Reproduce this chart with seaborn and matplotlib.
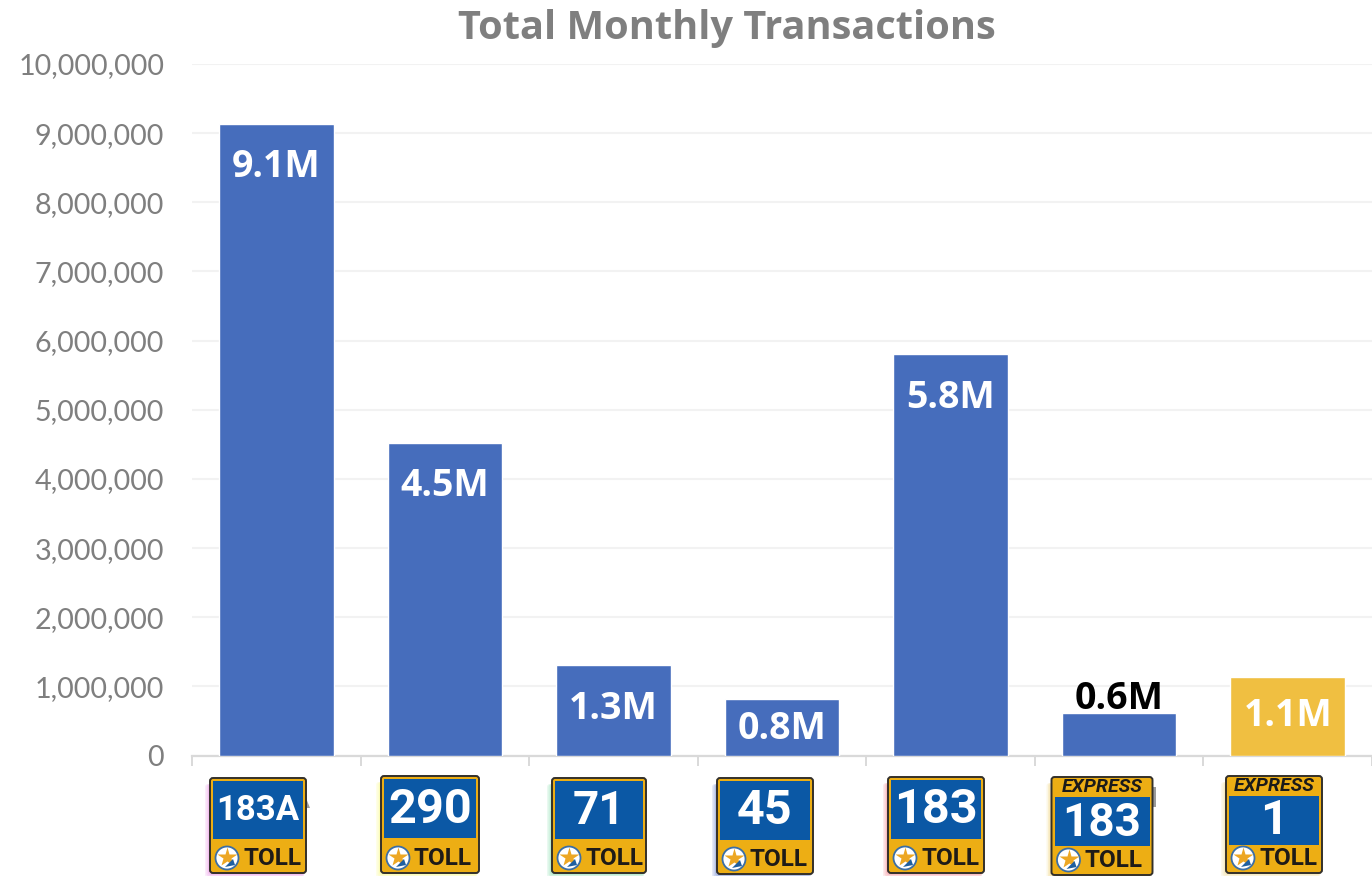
import matplotlib
matplotlib.use("Agg")
import matplotlib.pyplot as plt
from matplotlib.patches import FancyBboxPatch, Rectangle, Circle, Polygon
from matplotlib.ticker import FuncFormatter
import pandas as pd
import seaborn as sns

# ---- data ----
roads = ["183A", "290", "71", "45", "183", "Express 183", "Express 1"]
transactions = [9130000, 4520000, 1310000, 820000, 5800000, 610000, 1130000]
labels = ["9.1M", "4.5M", "1.3M", "0.8M", "5.8M", "0.6M", "1.1M"]
label_colors = ["white", "white", "white", "white", "white", "black", "white"]
label_offsets_px = [-43, -43, -44, -30, -44, 14, -39]
bar_colors = ["#466DBC"] * 6 + ["#F0BF41"]

sign_numbers = ["183A", "290", "71", "45", "183", "183", "1"]
sign_express = [False, False, False, False, False, True, True]
sign_glow = ["#EFA5EC", "#FBFB9A", "#9FE5BC", "#8FA2DC", "#F7A0A8", "#F5DC90", "#F5E3A8"]
sign_centers = [258, 430, 599, 765, 936, 1102, 1274]
sign_widths = [96, 98, 94, 96, 96, 101, 96]
sign_tops = [778, 776, 778, 778, 777, 777, 776]
sign_heights = [95, 97, 95, 96, 96, 98, 97]
sign_fontsizes = [25, 35, 33, 35, 35, 33, 35]

# ---- figure ----
sns.set_theme(style="white")
plt.rcParams["font.family"] = ["Open Sans", "DejaVu Sans"]
W, H = 1372, 876
fig = plt.figure(figsize=(W / 100, H / 100), dpi=100, facecolor="white")
ax = fig.add_axes([192 / W, 1 - 755.5 / H, 1180 / W, 691.5 / H])

df = pd.DataFrame({"road": roads, "transactions": transactions})
sns.barplot(data=df, x="road", y="transactions", hue="road", palette=bar_colors,
            legend=False, width=0.68, saturation=1, ax=ax, zorder=3)

ax.set_xlim(-0.5, 6.5)
ax.set_ylim(0, 10000000)
ax.set_yticks(range(0, 10000001, 1000000))
ax.yaxis.set_major_formatter(FuncFormatter(lambda v, _: f"{int(v):,}"))
ax.tick_params(axis="y", labelsize=20.7, labelcolor="#7F7F7F", length=0, pad=20)
ax.set_xticks([i - 0.5 for i in range(8)])
ax.set_xticklabels([])
ax.tick_params(axis="x", length=7.5, width=1.4, color="#D9D9D9", bottom=True)
ax.set_xlabel("")
ax.set_ylabel("")
ax.grid(axis="y", color="#F2F2F2", lw=1.5, zorder=0)
ax.set_axisbelow(True)
for s in ("top", "left", "right"):
    ax.spines[s].set_visible(False)
ax.spines["bottom"].set_color("#D9D9D9")
ax.spines["bottom"].set_linewidth(1.6)
for lab in ax.get_yticklabels():
    lab.set_fontfamily("Lato")

for i, (v, t, c, off) in enumerate(zip(transactions, labels, label_colors, label_offsets_px)):
    ax.annotate(t, (i, v), xytext=(0, off * 0.72), textcoords="offset points",
                ha="center", va="center", color=c, fontsize=27,
                fontweight="bold", family="Open Sans", zorder=5)

fig.text(727 / W, 1 - 29 / H, "Total Monthly Transactions", ha="center", va="center",
         fontsize=28.6, fontweight="bold", color="#7F7F7F", family="Open Sans")

# ---- road signs, in pixel space ----
ov = fig.add_axes([0, 0, 1, 1], zorder=10)
ov.set_xlim(0, W)
ov.set_ylim(H, 0)
ov.axis("off")
ov.patch.set_alpha(0)


def sign(cx, top, w, h, num, express, glow, fs):
    x0 = cx - w / 2
    # soft coloured glow on the left and bottom edges
    for grow, alpha in zip((5, 3.5, 2), (0.22, 0.3, 0.4)):
        ov.add_patch(FancyBboxPatch((x0 - grow, top + 6), w + grow - 2, h - 6 + grow,
                                    boxstyle="round,pad=0,rounding_size=3",
                                    fc=glow, ec="none", alpha=alpha, zorder=1))
    ov.add_patch(FancyBboxPatch((x0, top), w, h, boxstyle="round,pad=0,rounding_size=3",
                                fc="#EDAE14", ec="#33302A", lw=1.4, zorder=2))
    head = 20 if express else 3
    blue_h = h * (0.5 if express else 0.61)
    ov.add_patch(Rectangle((x0 + 3, top + head), w - 6, blue_h, fc="#0B58A5", ec="none", zorder=3))
    ov.text(cx, top + head + blue_h / 2 + 1, num, ha="center", va="center", color="white",
            fontsize=fs, fontweight="bold", family="Roboto", zorder=4)
    if express:
        ov.text(cx, top + 10, "EXPRESS", ha="center", va="center", color="#1A1A1A",
                fontsize=14, fontweight="bold", style="italic", family="Roboto", zorder=4)
    ly = top + h - 15
    ov.add_patch(Circle((x0 + 17, ly), 11.5, fc="white", ec="#3B6EA5", lw=1.3, zorder=4))
    ov.plot([x0 + 17], [ly - 1], marker="*", ms=15, mfc="#EDA723", mec="none", zorder=5)
    ov.add_patch(Polygon([(x0 + 15, ly + 9), (x0 + 23, ly + 1), (x0 + 25, ly + 7)],
                         fc="#1F5FA0", ec="none", zorder=5))
    ov.text(x0 + 62, ly + 0.5, "TOLL", ha="center", va="center", color="#1E1B18",
            fontsize=17.5, fontweight="bold", family="Roboto", zorder=4)


for args in zip(sign_centers, sign_tops, sign_widths, sign_heights, sign_numbers,
                sign_express, sign_glow, sign_fontsizes):
    sign(*args)

# small stray image fragments peeking out behind two signs
ov.add_patch(Polygon([(306, 798), (310, 808), (306, 808)], fc="#9A9A9A", ec="none", zorder=1))
ov.add_patch(Rectangle((1153, 787), 3, 20, fc="#9A9A9A", ec="none", zorder=1))

fig.savefig("out.png", dpi=100, facecolor="white")
